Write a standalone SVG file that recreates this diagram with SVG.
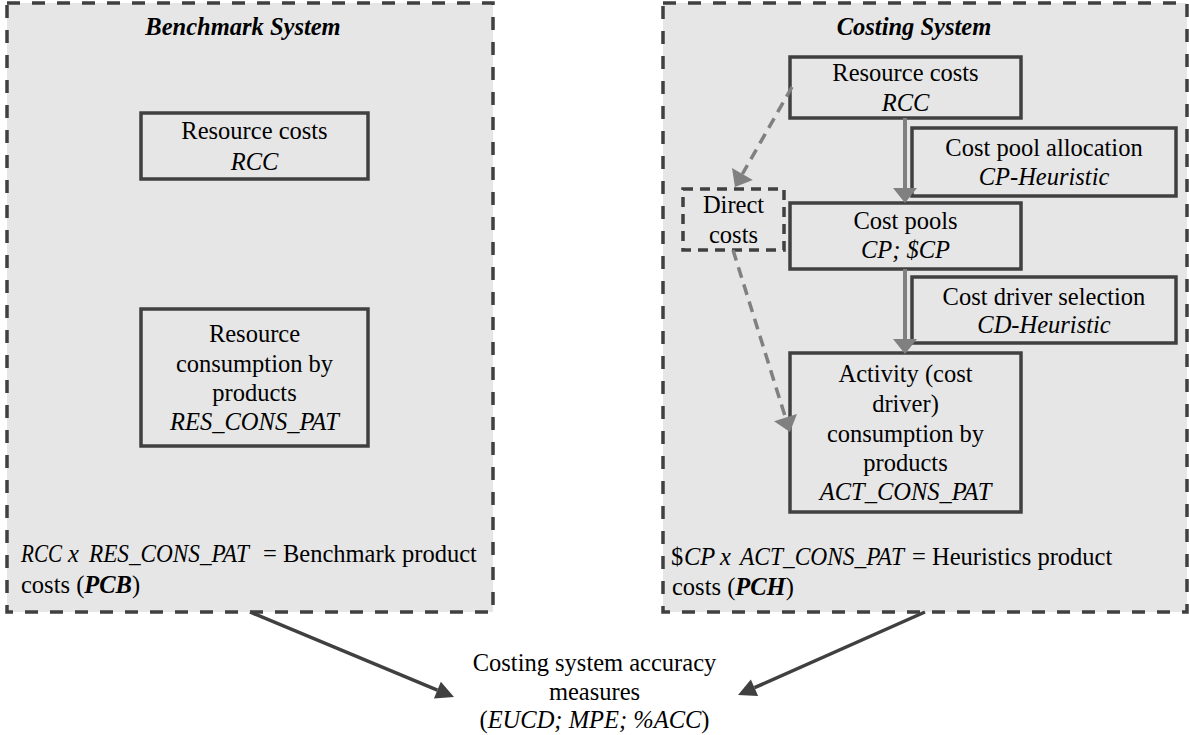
<svg xmlns="http://www.w3.org/2000/svg" width="1189" height="735" viewBox="0 0 1189 735">
<style>
text{font-family:"Liberation Serif","Times New Roman",serif;font-size:24.5px;fill:#000}
.c{text-anchor:middle}
.i{font-style:italic}
.bi{font-style:italic;font-weight:bold}
.sys{fill:#e6e6e6;stroke:#404040;stroke-width:3.5;stroke-dasharray:13 12}
.box{fill:#e6e6e6;stroke:#404040;stroke-width:3.5}
.dbox{fill:#e6e6e6;stroke:#404040;stroke-width:3.5;stroke-dasharray:10 7}
.ga{fill:none;stroke:#808080;stroke-width:4}
.gd{fill:none;stroke:#808080;stroke-width:3.5;stroke-dasharray:11 7}
.da{fill:none;stroke:#404040;stroke-width:3.5}
</style>
<defs>
<marker id="mg" markerUnits="userSpaceOnUse" markerWidth="20" markerHeight="30" refX="0" refY="12" orient="auto" overflow="visible">
<path d="M0,0 L15,12 L0,24 Z" fill="#808080"/>
</marker>
<marker id="md" markerUnits="userSpaceOnUse" markerWidth="22" markerHeight="24" refX="0" refY="9" orient="auto" overflow="visible">
<path d="M0,0 L18,9 L0,18 Z" fill="#404040"/>
</marker>
</defs>

<g id="benchmark-system">
<rect class="sys" x="7" y="3" width="486" height="609"/>
<text class="bi c" x="243" y="35">Benchmark System</text>
<text x="21" y="562"><tspan class="i" textLength="41" lengthAdjust="spacingAndGlyphs">RCC</tspan><tspan class="i" x="68">x</tspan><tspan class="i" x="89" textLength="160" lengthAdjust="spacingAndGlyphs">RES_CONS_PAT</tspan><tspan x="263">= Benchmark product</tspan></text>
<text x="21" y="593">costs (<tspan class="bi">PCB</tspan>)</text>
</g>

<g id="costing-system">
<rect class="sys" x="663" y="3" width="524" height="609"/>
<text class="bi c" x="914" y="35">Costing System</text>
<text x="671" y="565">$<tspan class="i" x="684">CP</tspan><tspan class="i" x="720">x</tspan><tspan class="i" x="740" textLength="164" lengthAdjust="spacingAndGlyphs">ACT_CONS_PAT</tspan><tspan x="912">= Heuristics product</tspan></text>
<text x="672" y="595">costs (<tspan class="bi">PCH</tspan>)</text>
</g>

<g id="b-resource-costs">
<rect class="box" x="141" y="113" width="227" height="66"/>
<text class="c" x="254.5" y="139">Resource costs</text>
<text class="c i" x="254.5" y="170">RCC</text>
</g>

<g id="b-resource-consumption">
<rect class="box" x="141" y="309" width="227" height="137"/>
<text class="c" x="254.5" y="342">Resource</text>
<text class="c" x="254.5" y="372">consumption by</text>
<text class="c" x="254.5" y="401">products</text>
<text class="c i" x="254.5" y="430">RES_CONS_PAT</text>
</g>

<g id="c-resource-costs">
<rect class="box" x="790" y="57" width="231" height="61"/>
<text class="c" x="905.5" y="81">Resource costs</text>
<text class="c i" x="905.5" y="111">RCC</text>
</g>

<g id="c-cost-pool-allocation">
<rect class="box" x="912" y="128" width="264" height="68"/>
<text class="c" x="1044" y="156">Cost pool allocation</text>
<text class="c i" x="1044" y="185">CP-Heuristic</text>
</g>

<g id="c-cost-pools">
<rect class="box" x="790" y="203" width="231" height="66"/>
<text class="c" x="905.5" y="229">Cost pools</text>
<text class="c i" x="905.5" y="258">CP; $CP</text>
</g>

<g id="c-cost-driver-selection">
<rect class="box" x="912" y="277" width="264" height="66"/>
<text class="c" x="1044" y="305">Cost driver selection</text>
<text class="c i" x="1044" y="333">CD-Heuristic</text>
</g>

<g id="c-activity-consumption">
<rect class="box" x="790" y="353" width="231" height="159"/>
<text class="c" x="905.5" y="382">Activity (cost</text>
<text class="c" x="905.5" y="412">driver)</text>
<text class="c" x="905.5" y="442">consumption by</text>
<text class="c" x="905.5" y="471">products</text>
<text class="c i" x="905.5" y="500">ACT_CONS_PAT</text>
</g>

<g id="c-direct-costs">
<rect class="dbox" x="683" y="189" width="101" height="61"/>
<text class="c" x="733.5" y="213">Direct</text>
<text class="c" x="733.5" y="243">costs</text>
</g>

<g id="accuracy-measures">
<text class="c" x="594.5" y="671">Costing system accuracy</text>
<text class="c" x="594.5" y="700">measures</text>
<text class="c" x="594.5" y="728">(<tspan class="i">EUCD; MPE; %ACC</tspan>)</text>
</g>

<g id="connectors">
<path class="ga" d="M905,118 L905,188" marker-end="url(#mg)"/>
<path class="ga" d="M905,269 L905,339" marker-end="url(#mg)"/>
<path class="gd" d="M792,87 L742.4,174" marker-end="url(#mg)"/>
<path class="gd" d="M733,250 L785.5,417.7" marker-end="url(#mg)"/>
<path class="da" d="M250,612 L437.4,690.1" marker-end="url(#md)"/>
<path class="da" d="M925,612 L754.5,687.7" marker-end="url(#md)"/>
</g>
</svg>
